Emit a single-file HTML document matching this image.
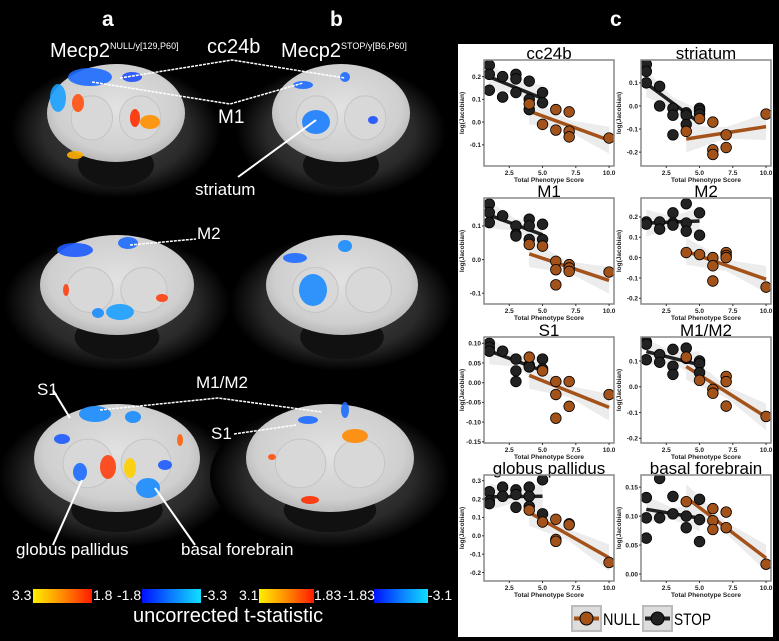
<!DOCTYPE html>
<html><head><meta charset="utf-8">
<style>
html,body{margin:0;padding:0;background:#000;}
body{width:779px;height:641px;position:relative;overflow:hidden;font-family:"Liberation Sans",sans-serif;}
.t{position:absolute;color:#fff;white-space:nowrap;}
</style></head>
<body>
<svg id="left" width="458" height="641" style="position:absolute;left:0;top:0">
<defs>
<radialGradient id="brain" cx="50%" cy="45%" r="55%"><stop offset="0" stop-color="#e2e2e2"/><stop offset="0.8" stop-color="#cfcfcf"/><stop offset="1" stop-color="#b8b8b8"/></radialGradient>
<radialGradient id="head" cx="50%" cy="50%" r="50%"><stop offset="0" stop-color="#444"/><stop offset="0.7" stop-color="#2a2a2a"/><stop offset="1" stop-color="#000"/></radialGradient>
<linearGradient id="hot" x1="0" x2="1"><stop offset="0" stop-color="#ffef00"/><stop offset="0.5" stop-color="#ff8c00"/><stop offset="1" stop-color="#ff1a00"/></linearGradient>
<linearGradient id="cold" x1="0" x2="1"><stop offset="0" stop-color="#0010ff"/><stop offset="0.5" stop-color="#0a7cff"/><stop offset="1" stop-color="#10e0ff"/></linearGradient>
</defs>
<g id="brains"></g>
<g stroke="#fff" stroke-width="1.5" stroke-dasharray="3,1" fill="none">
<polyline points="120,78 232,60 345,78"/>
<polyline points="92,82 230,104 303,83"/>
<polyline points="130,245 196,239"/>
<polyline points="100,410 218,398 322,412"/>
<polyline points="234,434 296,425"/>
</g>
<g stroke="#fff" stroke-width="2" fill="none">
<line x1="238" y1="177" x2="316" y2="120"/>
<line x1="53" y1="390" x2="70" y2="418"/>
<line x1="53" y1="545" x2="82" y2="480"/>
<line x1="195" y1="545" x2="155" y2="488"/>
</g>
<rect x="33" y="589" width="59" height="14" fill="url(#hot)"/>
<rect x="142" y="589" width="59" height="14" fill="url(#cold)"/>
<rect x="259" y="589" width="55" height="14" fill="url(#hot)"/>
<rect x="374" y="589" width="54" height="14" fill="url(#cold)"/>
</svg>

<div class="t" style="left:102px;top:8px;font-size:21px;font-weight:bold">a</div>
<div class="t" style="left:330px;top:8px;font-size:21px;font-weight:bold">b</div>
<div class="t" style="left:610px;top:8px;font-size:21px;font-weight:bold">c</div>
<div class="t" style="left:50px;top:40px;font-size:20px">Mecp2<sup style="font-size:9px;vertical-align:8px">NULL/y[129,P60]</sup></div>
<div class="t" style="left:281px;top:40px;font-size:20px">Mecp2<sup style="font-size:9px;vertical-align:8px">STOP/y[B6,P60]</sup></div>
<div class="t" style="left:207px;top:36px;font-size:20px">cc24b</div>
<div class="t" style="left:218px;top:107px;font-size:19px">M1</div>
<div class="t" style="left:195px;top:180px;font-size:17px">striatum</div>
<div class="t" style="left:197px;top:224px;font-size:17px">M2</div>
<div class="t" style="left:196px;top:373px;font-size:17px">M1/M2</div>
<div class="t" style="left:37px;top:380px;font-size:17px">S1</div>
<div class="t" style="left:211px;top:424px;font-size:17px">S1</div>
<div class="t" style="left:16px;top:540px;font-size:17px">globus pallidus</div>
<div class="t" style="left:181px;top:540px;font-size:17px">basal forebrain</div>
<div class="t" style="left:12px;top:587px;font-size:14px">3.3</div>
<div class="t" style="left:93px;top:587px;font-size:14px">1.8</div>
<div class="t" style="left:117px;top:587px;font-size:14px">-1.8</div>
<div class="t" style="left:203px;top:587px;font-size:14px">-3.3</div>
<div class="t" style="left:239px;top:587px;font-size:14px">3.1</div>
<div class="t" style="left:314px;top:587px;font-size:14px">1.83</div>
<div class="t" style="left:343px;top:587px;font-size:14px">-1.83</div>
<div class="t" style="left:428px;top:587px;font-size:14px">-3.1</div>
<div class="t" style="left:133px;top:605px;font-size:20px">uncorrected t-statistic</div>

<div style="position:absolute;left:458px;top:44px;width:315px;height:593px;background:#fff"></div>
<svg id="charts" width="779" height="641" style="position:absolute;left:0;top:0"></svg>

<script>
// ---- chart data ----
const panelTitles = ["cc24b","striatum","M1","M2","S1","M1/M2","globus pallidus","basal forebrain"];
const yDomains = [[-0.193,0.273],[-0.26,0.199],[-0.132,0.183],[-0.228,0.293],[-0.153,0.116],[-0.218,0.193],[-0.246,0.331],[-0.012,0.171]];
const yTicks = [[-0.1,0,0.1,0.2],[-0.2,-0.1,0,0.1],[-0.1,0,0.1],[-0.2,-0.1,0,0.1,0.2],[-0.15,-0.1,-0.05,0,0.05,0.1],[-0.2,-0.1,0,0.1],[-0.2,-0.1,0,0.1,0.2,0.3],[0,0.05,0.1,0.15]];
const yTickLabels = [["-0.1","0.0","0.1","0.2"],["-0.2","-0.1","0.0","0.1"],["-0.1","0.0","0.1"],["-0.2","-0.1","0.0","0.1","0.2"],["-0.15","-0.10","-0.05","0.00","0.05","0.10"],["-0.2","-0.1","0.0","0.1"],["-0.2","-0.1","0.0","0.1","0.2","0.3"],["0.00","0.05","0.10","0.15"]];
const xTicks = [2.5,5,7.5,10];
const xTickLabels = ["2.5","5.0","7.5","10.0"];
const stopX = [
 [1,1,1,2,2,3,3,3,4,4,4,5,5],
 [1,1,1,2,2,3,3,3,4,4,4,5,5,5],
 [1,1,1,2,3,3,3,4,4,4,5,5],
 [1,1,2,2,3,3,3,4,4,4,5,5],
 [1,1,1,2,3,3,3,4,4,5,5],
 [1,1,1,2,2,3,3,3,4,4,5,5,5],
 [1,1,1,2,2,3,3,3,4,4,4,5,5],
 [1,1,1,2,2,3,3,4,4,5,5,5]];
const stopY = [
 [0.25,0.21,0.14,0.20,0.11,0.21,0.19,0.13,0.18,0.10,0.055,0.13,0.085],
 [0.18,0.15,0.10,0.085,0,-0.01,-0.04,-0.125,-0.03,-0.04,-0.08,-0.01,-0.02,-0.035],
 [0.165,0.14,0.11,0.13,0.10,0.075,0.07,0.12,0.10,0.06,0.105,0.06],
 [0.175,0.165,0.175,0.14,0.22,0.17,0.16,0.265,0.17,0.13,0.22,0.11],
 [0.10,0.09,0.08,0.08,0.06,0.03,0.003,0.045,0.04,0.06,0.035],
 [0.175,0.165,0.105,0.125,0.095,0.145,0.08,0.048,0.15,0.11,0.10,0.09,0.055],
 [0.24,0.19,0.175,0.265,0.215,0.25,0.225,0.155,0.265,0.215,0.16,0.305,0.12],
 [0.132,0.097,0.062,0.165,0.097,0.134,0.104,0.10,0.08,0.129,0.094,0.056]];
const nullX = [
 [4,5,6,6,7,7,7,10],
 [4,5,6,6,6,7,7,10],
 [4,5,6,6,6,7,7,7,10],
 [4,5,6,6,6,7,7,7,10],
 [4,5,6,6,6,7,7,10],
 [4,5,6,6,7,7,7,10],
 [4,5,6,6,6,7,7,10],
 [4,6,6,6,7,7,10]];
const nullY = [
 [0.08,-0.01,0.055,-0.035,0.045,-0.04,-0.065,-0.07],
 [-0.11,-0.055,-0.07,-0.19,-0.21,-0.125,-0.18,-0.035],
 [0.045,0.04,-0.005,-0.03,-0.075,-0.015,-0.025,-0.035,-0.037],
 [0.025,0.015,0,-0.04,-0.115,0.025,0.01,0,-0.145],
 [0.065,0.03,0.003,-0.03,-0.09,0.003,-0.06,-0.03],
 [0.115,0.025,-0.01,-0.025,0.04,0.02,-0.075,-0.115],
 [0.14,0.075,0.09,-0.02,-0.03,0.065,0.06,-0.145],
 [0.125,0.113,0.092,0.077,0.107,0.08,0.017]];
const xDomain = [0.6,10.37];

const NS="http://www.w3.org/2000/svg";
const svg=document.getElementById('charts');
function mk(tag,attrs,parent){const e=document.createElementNS(NS,tag);for(const k in attrs)e.setAttribute(k,attrs[k]);(parent||svg).appendChild(e);return e;}
function fit(xs,ys){const n=xs.length;let mx=0,my=0;for(let i=0;i<n;i++){mx+=xs[i];my+=ys[i];}mx/=n;my/=n;let sxy=0,sxx=0;for(let i=0;i<n;i++){sxy+=(xs[i]-mx)*(ys[i]-my);sxx+=(xs[i]-mx)**2;}const b=sxx?sxy/sxx:0;return {a:my-b*mx,b:b};}
const rowTops=[60,198,337,475];
const colLefts=[484,641];
const W=130,H=106;
const NULLC="#a3521a", STOPC="#222";
panelTitles.forEach((title,p)=>{
  const L=colLefts[p%2], T=rowTops[Math.floor(p/2)];
  const g=mk('g',{});
  
  
  const xs=v=>L+(v-xDomain[0])/(xDomain[1]-xDomain[0])*W;
  const ys=v=>T+H-(v-yDomains[p][0])/(yDomains[p][1]-yDomains[p][0])*H;
  const tt=mk('text',{x:L+W/2,y:T-1,'text-anchor':'middle','font-size':17,fill:'#000','font-family':'Liberation Sans, sans-serif'},g);tt.textContent=title;
  
  
  const clip=mk('clipPath',{id:'c'+p},g);mk('rect',{x:L,y:T,width:W,height:H},clip);
  const inner=mk('g',{'clip-path':'url(#c'+p+')'},g);
  [[stopX[p],stopY[p],STOPC,1,5],[nullX[p],nullY[p],NULLC,4,10]].forEach(([X,Y,c,x0,x1])=>{
    const f=fit(X,Y);const w=(yDomains[p][1]-yDomains[p][0])*0.09;
    mk('polygon',{points:`${xs(x0)},${ys(f.a+f.b*x0+w*1.4)} ${xs((x0+x1)/2)},${ys(f.a+f.b*(x0+x1)/2+w*0.6)} ${xs(x1)},${ys(f.a+f.b*x1+w*1.4)} ${xs(x1)},${ys(f.a+f.b*x1-w*1.4)} ${xs((x0+x1)/2)},${ys(f.a+f.b*(x0+x1)/2-w*0.6)} ${xs(x0)},${ys(f.a+f.b*x0-w*1.4)}`,fill:'#ececec'},inner);
  });
  [[stopX[p],stopY[p],STOPC,1,5,'stop-fit-line'],[nullX[p],nullY[p],NULLC,4,10,'null-fit-line']].forEach(([X,Y,c,x0,x1,nm])=>{
    const f=fit(X,Y);
    const ln=mk('line',{x1:xs(x0),y1:ys(f.a+f.b*x0),x2:xs(x1),y2:ys(f.a+f.b*x1),stroke:c,'stroke-width':3.5},inner);
    
    
  });
  stopX[p].forEach((x,i)=>{const c=mk('circle',{cx:xs(x),cy:ys(stopY[p][i]),r:5.3,fill:STOPC,stroke:'#000','stroke-width':0.8},inner);
    
    });
  nullX[p].forEach((x,i)=>{const c=mk('circle',{cx:xs(x),cy:ys(nullY[p][i]),r:5.3,fill:NULLC,stroke:'#000','stroke-width':0.8},inner);
    
    });
  mk('rect',{x:L,y:T,width:W,height:H,fill:'none',stroke:'#888','stroke-width':1.5},g);
  xTicks.forEach((v,i)=>{mk('line',{x1:xs(v),x2:xs(v),y1:T+H,y2:T+H+2,stroke:'#333'},g);
    const t=mk('text',{x:xs(v),y:T+H+9,'text-anchor':'middle','font-size':6.5,'font-weight':'bold',fill:'#222'},g);t.textContent=xTickLabels[i];});
  yTicks[p].forEach((v,i)=>{mk('line',{x1:L-2,x2:L,y1:ys(v),y2:ys(v),stroke:'#333'},g);
    const t=mk('text',{x:L-3,y:ys(v)+2.3,'text-anchor':'end','font-size':6.5,'font-weight':'bold',fill:'#222'},g);t.textContent=yTickLabels[p][i];});
  const xl=mk('text',{x:L+W/2,y:T+H+16,'text-anchor':'middle','font-size':6.5,'font-weight':'bold',fill:'#222'},g);xl.textContent='Total Phenotype Score';
  
  
  const yx=L-20,yy=T+H/2;
  const yl=mk('text',{x:yx,y:yy,'text-anchor':'middle','font-size':6.5,'font-weight':'bold',fill:'#222',transform:`rotate(-90 ${yx} ${yy})`},g);yl.textContent='log(Jacobian)';
  
  
});
// legend
[[572,'NULL',NULLC,'legend-null'],[643,'STOP',STOPC,'legend-stop']].forEach(([x,lab,c,nm])=>{
  const g=mk('g',{});
  
  
  mk('rect',{x:x,y:606,width:29,height:25,fill:'#ddd',stroke:'#bbb','stroke-width':2},g);
  mk('line',{x1:x+2,x2:x+27,y1:618.5,y2:618.5,stroke:c,'stroke-width':4},g);
  mk('circle',{cx:x+14.5,cy:618.5,r:6.5,fill:c,stroke:'#000','stroke-width':1},g);
  const t=mk('text',{x:x+31,y:625,'font-size':17,fill:'#000',textLength:37,lengthAdjust:'spacingAndGlyphs'},g);t.textContent=lab;
});

// ---- brains ----
const bg=document.getElementById('brains');
function bk(tag,attrs,parent){const e=document.createElementNS(NS,tag);for(const k in attrs)e.setAttribute(k,attrs[k]);(parent||bg).appendChild(e);return e;}
const brains=[[116,113,69,49],[341,113,69,49],[117,285,77,50],[342,285,76,50],[117,458,83,54],[330,458,84,54]];
brains.forEach(([cx,cy,rx,ry],i)=>{
  const g=bk('g',{});
  
  
  bk('ellipse',{cx:cx,cy:cy+18,rx:rx+36,ry:ry+18,fill:'url(#head)'},g);
  bk('ellipse',{cx:cx,cy:cy+52,rx:rx*0.55,ry:22,fill:'#111'},g);
  bk('ellipse',{cx:cx,cy:cy,rx:rx,ry:ry,fill:'url(#brain)'},g);
  bk('ellipse',{cx:cx-rx*0.35,cy:cy+ry*0.1,rx:rx*0.3,ry:ry*0.45,fill:'#d8d8d8',stroke:'#c4c4c4'},g);
  bk('ellipse',{cx:cx+rx*0.35,cy:cy+ry*0.1,rx:rx*0.3,ry:ry*0.45,fill:'#d8d8d8',stroke:'#c4c4c4'},g);
});
const blobs=[
 [90,77,22,9,'#1e6bff'],[58,98,8,14,'#1aa0ff'],[132,77,10,5,'#2050ff'],[78,103,6,9,'#ff5010'],[150,122,10,7,'#ff9000'],[135,118,5,9,'#ff3000'],[75,155,8,4,'#ffb000'],
 [316,122,14,12,'#1c80ff'],[345,77,5,5,'#1e6bff'],[303,85,10,4,'#1e6bff'],[373,120,5,4,'#1e50ff'],
 [75,250,18,7,'#1e5bff'],[128,243,10,6,'#1e6bff'],[120,312,14,8,'#1aa0ff'],[98,313,6,5,'#1a8cff'],[66,290,3,6,'#ff4010'],[162,298,6,4,'#ff4010'],
 [313,290,14,16,'#1c8cff'],[295,258,12,5,'#1e6bff'],[345,246,7,6,'#1a8cff'],
 [95,414,16,8,'#1a8cff'],[133,417,8,6,'#1a8cff'],[62,439,8,5,'#1e5bff'],[80,472,7,9,'#1e6bff'],[108,467,8,12,'#ff4010'],[130,468,6,10,'#ffd000'],[148,488,12,10,'#1a8cff'],[165,465,7,5,'#1e5bff'],[180,440,3,6,'#ff6010'],
 [355,436,13,7,'#ff8a00'],[308,420,10,4,'#1e6bff'],[272,457,4,3,'#ff5010'],[310,500,9,4,'#ff3000'],[345,410,4,8,'#1e6bff']
];
blobs.forEach(([x,y,rx,ry,c])=>{const e=bk('ellipse',{cx:x,cy:y,rx:rx,ry:ry,fill:c,opacity:0.9});
  
  });
</script>
</body></html>
